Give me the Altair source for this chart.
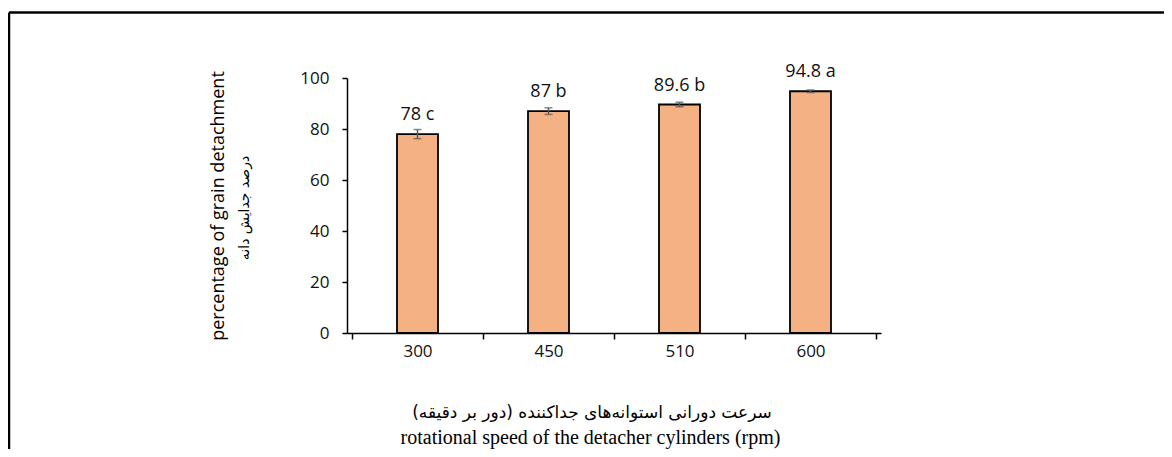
import altair as alt
import pandas as pd

speeds = ["300", "450", "510", "600"]
means = [78, 87, 89.6, 94.8]
errors = [1.8, 1.3, 0.9, 0.5]
letters = ["c", "b", "b", "a"]

y_title_en = "percentage of grain detachment"
y_title_fa = "درصد جدایش دانه"
x_title_fa = "سرعت دورانی استوانه‌های جداکننده (دور بر دقیقه)"
x_title_en = "rotational speed of the detacher cylinders (rpm)"

df = pd.DataFrame({
    "idx": list(range(len(speeds))),
    "speed": speeds,
    "mean": means,
    "lo": [m - e for m, e in zip(means, errors)],
    "hi": [m + e for m, e in zip(means, errors)],
    "label": [f"{m:g} {l}" for m, l in zip(means, letters)],
})

label_map = "{" + ",".join(f"'{i}':'{s}'" for i, s in enumerate(speeds)) + "}"

x_enc = alt.X(
    "idx:Q",
    scale=alt.Scale(domain=[-0.5, len(speeds) - 0.5], nice=False, zero=False),
    axis=alt.Axis(
        values=[i * 0.5 - 0.5 for i in range(2 * len(speeds) + 1)],
        labelExpr=f"datum.value % 1 === 0 ? {label_map}[''+datum.value] : ''",
        tickOpacity={"condition": {"test": "datum.value % 1 === 0", "value": 0}, "value": 1},
        tickSize=6,
        tickColor="black",
        tickWidth=1.5,
        domainColor="black",
        domainWidth=1.5,
        labelFont="Open Sans",
        labelFontSize=17,
        labelColor="#111",
        labelPadding=4,
        labelFlush=False,
        grid=False,
        title=x_title_en,
        titleFont="Liberation Serif",
        titleFontSize=20,
        titleFontWeight="normal",
        titleColor="black",
        titleX=243,
        titleY=104,
        titleBaseline="middle",
        titleAlign="center",
    ),
)

y_enc = alt.Y(
    "mean:Q",
    scale=alt.Scale(domain=[0, 100], nice=False),
    axis=alt.Axis(
        values=[0, 20, 40, 60, 80, 100],
        tickSize=5,
        tickColor="black",
        tickWidth=1.5,
        domainColor="black",
        domainWidth=1.5,
        labelFont="Open Sans",
        labelFontSize=17,
        labelColor="#111",
        labelPadding=13,
        grid=False,
        title=y_title_en,
        titleFont="Open Sans",
        titleFontSize=18,
        titleFontWeight="normal",
        titleColor="black",
        titleAngle=270,
        titleX=-129,
        titleY=127.5,
        titleBaseline="middle",
        titleAlign="center",
    ),
)

base = alt.Chart(df)

bars = base.mark_bar(size=41, color="#F4B183", stroke="black", strokeWidth=1.8).encode(
    x=x_enc, y=y_enc
)

err = base.mark_errorbar(ticks={"size": 8}, color="#595959", thickness=1.5).encode(
    x="idx:Q",
    y=alt.Y("lo:Q", title=""),
    y2="hi:Q",
)

labels = base.mark_text(
    dy=-14, baseline="alphabetic", font="Open Sans", fontSize=18, color="#111"
).encode(x="idx:Q", y="mean:Q", text="label:N")

one = pd.DataFrame({"t": [y_title_fa], "u": [x_title_fa]})

fa_y = alt.Chart(one).mark_text(
    angle=270, align="center", baseline="middle", font="DejaVu Sans", fontSize=14, color="black"
).encode(x=alt.value(-102), y=alt.value(130), text="t:N")

fa_x = alt.Chart(one).mark_text(
    align="center", baseline="middle", font="DejaVu Sans", fontSize=17, color="black"
).encode(x=alt.value(245), y=alt.value(335), text="u:N")

frame_top = alt.Chart(one).mark_rule(color="black", strokeWidth=2.5).encode(
    x=alt.value(-338), x2=alt.value(840), y=alt.value(-65.5)
)
frame_left = alt.Chart(one).mark_rule(color="black", strokeWidth=2.5).encode(
    x=alt.value(-338), y=alt.value(-65.5), y2=alt.value(390)
)

chart = alt.layer(bars, err, labels, fa_y, fa_x, frame_top, frame_left).properties(
    width=534,
    height=255,
    autosize=alt.AutoSizeParams(type="none"),
    padding={"left": 339, "top": 70, "right": 283, "bottom": 116},
    background="white",
).configure_view(stroke=None)

chart.save("out.html", embed_options={"renderer": "svg", "actions": False})
